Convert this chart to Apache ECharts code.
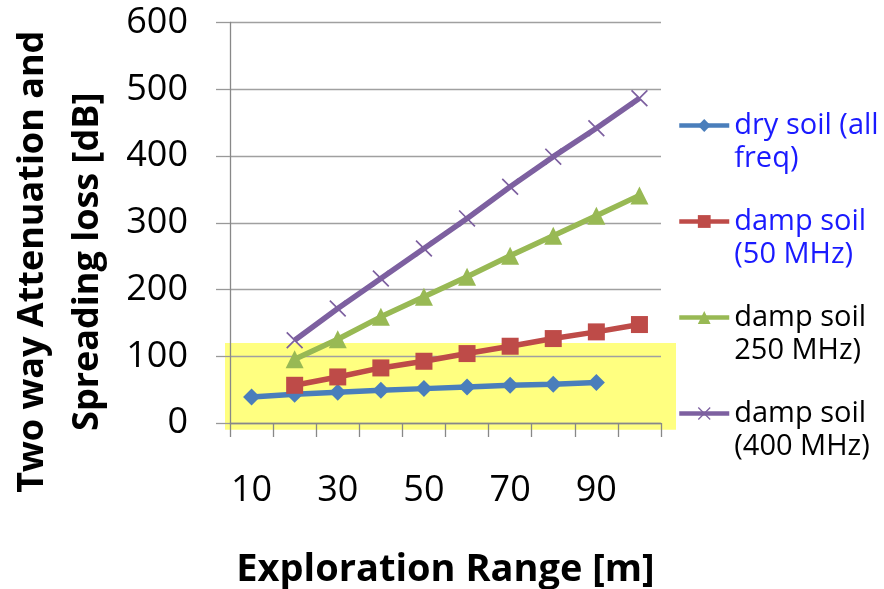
<!DOCTYPE html>
<html><head><meta charset="utf-8">
<script src="https://cdn.jsdelivr.net/npm/echarts@6/dist/echarts.min.js"></script>
<style>html,body{margin:0;padding:0;background:#fff}#c{width:884px;height:589px}</style>
</head><body><div id="c"></div>
<script>
const categories = ['10','20','30','40','50','60','70','80','90','100'];
const drySoil = [39, 43, 46, 49, 51.5, 54, 56.5, 58, 60.5, null];
const damp50 = [null, 56.5, 69, 82.5, 92.5, 104, 115, 126.5, 136.5, 147.5];
const damp250 = [null, 95.5, 125.5, 159, 189, 219, 250.5, 280.5, 310.5, 341];
const damp400 = [null, 124, 171.5, 216.5, 261.5, 306.5, 354, 399, 441.5, 486.5];
const seriesNames = ['dry soil (all\nfreq)', 'damp soil\n(50 MHz)', 'damp soil\n250 MHz)', 'damp soil\n(400 MHz)'];
const highlightRange = [-10, 120];

const FONT = 'Open Sans';
const xPath = 'path://M0,0.7L0.7,0L10,9.3L9.3,10Z M9.3,0L10,0.7L0.7,10L0,9.3Z';
const chart = echarts.init(document.getElementById('c'), null, {renderer: 'canvas'});
function mk(name, data, color, symbol, size) {
  return {
    name, type: 'line', data, symbol, symbolSize: size, showSymbol: true,
    connectNulls: false,
    lineStyle: {color, width: 5.5},
    itemStyle: {color},
    emphasis: {disabled: true},
    animation: false
  };
}
const option = {
  animation: false,
  textStyle: {fontFamily: FONT},
  grid: {left: 230, right: 223, top: 22.5, bottom: 166, outerBoundsMode: 'none', containLabel: false},
  xAxis: {
    type: 'category', data: categories, boundaryGap: true,
    axisLine: {lineStyle: {color: '#888', width: 1.3}},
    axisTick: {show: true, length: 14, lineStyle: {color: '#888', width: 1.3}, interval: 0},
    axisLabel: {interval: 1, fontSize: 36, color: '#000', margin: 50, fontFamily: FONT},
    name: 'Exploration Range [m]', nameLocation: 'middle', nameGap: 128,
    nameTextStyle: {fontSize: 38, fontWeight: 'bold', color: '#000', fontFamily: FONT}
  },
  yAxis: {
    type: 'value', min: 0, max: 600, interval: 100,
    axisLine: {show: true, lineStyle: {color: '#888', width: 1.3}},
    axisTick: {show: true, length: 14, lineStyle: {color: '#999', width: 1.3}},
    splitLine: {show: true, lineStyle: {color: '#a0a0a0', width: 1.3}},
    axisLabel: {fontSize: 36, color: '#000', margin: 42, fontFamily: FONT},
    name: 'Two way Attenuation and\nSpreading loss [dB]', nameLocation: 'middle', nameGap: 115, nameRotate: 90,
    nameTextStyle: {fontSize: 36, fontWeight: 'bold', color: '#000', lineHeight: 55, fontFamily: FONT, padding: [0, 78, 0, 0]}
  },
  legend: {
    orient: 'vertical', left: 677, top: 76, padding: 0, itemGap: -3, itemWidth: 50, itemHeight: 16,
    formatter: n => '\n' + n,
    lineStyle: {width: 4.5},
    textStyle: {fontSize: 29, lineHeight: 33, fontFamily: FONT},
    data: [
      {name: seriesNames[0], textStyle: {color: '#1a1aff'}},
      {name: seriesNames[1], textStyle: {color: '#1a1aff'}},
      {name: seriesNames[2], textStyle: {color: '#000'}},
      {name: seriesNames[3], textStyle: {color: '#000'}}
    ],
    selectedMode: false
  },
  series: [
    mk(seriesNames[0], drySoil, '#4a7ebb', 'diamond', 17),
    mk(seriesNames[1], damp50, '#be4b48', 'rect', 17),
    mk(seriesNames[2], damp250, '#98b954', 'triangle', 18),
    mk(seriesNames[3], damp400, '#7d60a0', xPath, 17)
  ]
};
chart.setOption(option);
const pTop = chart.convertToPixel({gridIndex: 0}, [0, highlightRange[1]]);
const pBot = chart.convertToPixel({gridIndex: 0}, [0, highlightRange[0]]);
const gx0 = 230 - 5, gx1 = 884 - 223 + 15;
chart.setOption({
  graphic: [{
    type: 'rect', z: -10, silent: true,
    shape: {x: gx0, y: pTop[1], width: gx1 - gx0, height: Math.min(pBot[1], 430) - pTop[1]},
    style: {fill: '#ffff80'}
  }]
});
</script></body></html>
